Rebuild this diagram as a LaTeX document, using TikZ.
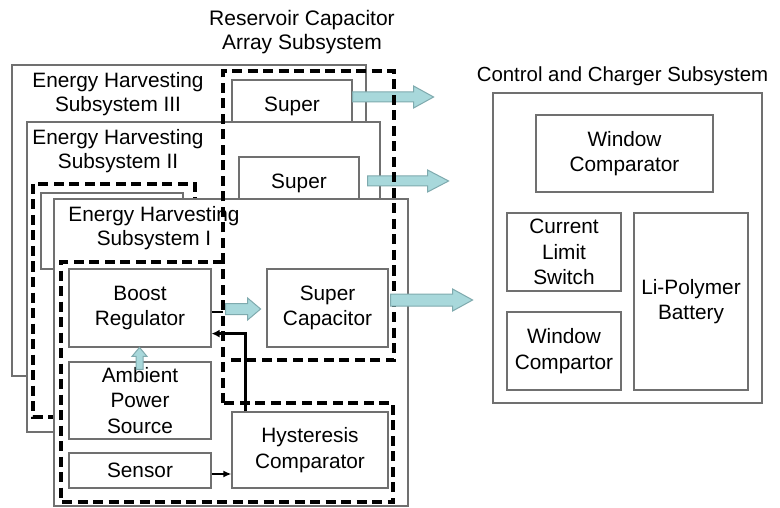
\documentclass[tikz,border=0pt]{standalone}
\usepackage{fontspec}
\setmainfont{Liberation Sans}
\usetikzlibrary{calc,arrows.meta}
\definecolor{boxgray}{HTML}{707070}
\definecolor{fatfill}{HTML}{A8D8DB}
\definecolor{fatline}{HTML}{7FAAAE}
\tikzset{
  box/.style={draw=boxgray, line width=1.2pt, fill=white, align=center, inner sep=0pt,
              font=\fontsize{20.8}{25.5}\selectfont},
  lbl/.style={align=center, inner sep=0pt, font=\fontsize{20.8}{24.5}\selectfont},
  dashbox/.style={draw=black, line width=3.2pt, dash pattern=on 10pt off 5.5pt},
  fat/.style={draw=fatline, fill=fatfill, line width=1pt, line join=miter},
  blk/.style={draw=black, line width=2.4pt, -{Latex[length=8pt,width=8pt]}},
  blkthin/.style={draw=black, line width=1.8pt, -{Latex[length=8pt,width=7pt]}}
}
\begin{document}
\begin{tikzpicture}[x=1pt,y=-1pt]
\useasboundingbox[fill=white] (0,0) rectangle (780,508);

% ---------- Subsystem III ----------
\node[box, minimum width=354pt, minimum height=311pt] (boxIII) at (189,220.5) {};
\node[lbl] (lblIII) at (118,94) {Energy Harvesting\\Subsystem III};
\node[box, minimum width=120pt, minimum height=52pt] (superIII) at (292,106) {Super};
\draw[fat] ($(superIII.east)+(0,-9)$) ++(0,-5) -- ++(61,0) -- ++(0,-6) -- ++(20,11) -- ++(-20,11) -- ++(0,-6) -- ++(-61,0) -- cycle;

% ---------- Subsystem II ----------
\node[box, minimum width=353pt, minimum height=310pt] (boxII) at (203.5,277) {};
\node[lbl] (lblII) at (118,151) {Energy Harvesting\\Subsystem II};
\node[box, minimum width=120pt, minimum height=52pt] (superII) at (299,183) {Super};
\draw[fat] ($(superII.east)+(8,-2)$) ++(0,-5) -- ++(60,0) -- ++(0,-6) -- ++(21,11) -- ++(-21,11) -- ++(0,-6) -- ++(-60,0) -- cycle;
\draw[dashbox] (33,184) rectangle (195,417);
\node[box, minimum width=142pt, minimum height=76pt] (innerII) at (112,231) {};

% ---------- Subsystem I ----------
\node[box, minimum width=354pt, minimum height=307pt] (boxI) at (231,352.5) {};
\node[lbl] (lblI) at (154,228) {Energy Harvesting\\Subsystem I};
\node[box, minimum width=142pt, minimum height=78pt] (boost) at (140,308) {Boost\\Regulator};
\node[box, minimum width=142pt, minimum height=77pt] (ambient) at (140,400.5) {Ambient\\Power\\Source};
\node[box, minimum width=142pt, minimum height=35pt] (sensor) at (140,470.5) {Sensor};
\node[box, minimum width=156pt, minimum height=76pt] (hyst) at (310,450) {Hysteresis\\Comparator};
\node[box, minimum width=121pt, minimum height=78pt] (supercap) at (327.5,308) {Super\\Capacitor};

% dashed subsystem outlines
\draw[dashbox] (223,403) -- (223,71) -- (394,71) -- (394,360) -- (230,360);
\draw[dashbox] (223,262) -- (61,262) -- (61,502) -- (393,502) -- (393,403) -- (223,403);

% arrows inside subsystem I
\draw[black, line width=2.6pt] ($(boost.east)+(0,4)$) -- ++(11,0);
\draw[fat] ($(boost.east)+(14,1)$) ++(0,-5.5) -- ++(22,0) -- ++(0,-5.5) -- ++(13,11) -- ++(-13,11) -- ++(0,-5.5) -- ++(-22,0) -- cycle;
\draw[fat] ($(ambient.north)+(-0.5,8)$) ++(-3.5,0) -- ++(0,-13) -- ++(-4,0) -- ++(7.5,-9) -- ++(7.5,9) -- ++(-4,0) -- ++(0,13) -- cycle;
\draw[fat] ($(supercap.east)+(2,-8)$) ++(0,-6) -- ++(62,0) -- ++(0,-5) -- ++(20,11) -- ++(-20,11) -- ++(0,-5) -- ++(-62,0) -- cycle;
\draw[blk] ($(hyst.north west)+(14,0)$) |- ($(boost.south east)+(0,-14)$);
\draw[blkthin] ($(sensor.east)+(0,3.5)$) -- ($(hyst.west |- sensor.east)+(0,3.5)$);

% ---------- titles ----------
\node[lbl, font=\fontsize{21}{23.5}\selectfont] (resTitle) at (302,32) {Reservoir Capacitor\\Array Subsystem};
\node[lbl, font=\fontsize{20.4}{24}\selectfont] (ctrlTitle) at (622.5,76) {Control and Charger Subsystem};

% ---------- Control and Charger ----------
\node[box, minimum width=269pt, minimum height=310pt] (ctrl) at (627.5,248) {};
\node[box, minimum width=177pt, minimum height=77pt] (wc) at (624.5,153.5) {Window\\Comparator};
\node[box, minimum width=114pt, minimum height=78pt] (cls) at (564,252) {Current\\Limit\\Switch};
\node[box, minimum width=114pt, minimum height=78pt] (wc2) at (564,351) {Window\\Compartor};
\node[box, minimum width=114pt, minimum height=177pt] (lipo) at (691,301.5) {Li-Polymer\\Battery};
\end{tikzpicture}
\end{document}
